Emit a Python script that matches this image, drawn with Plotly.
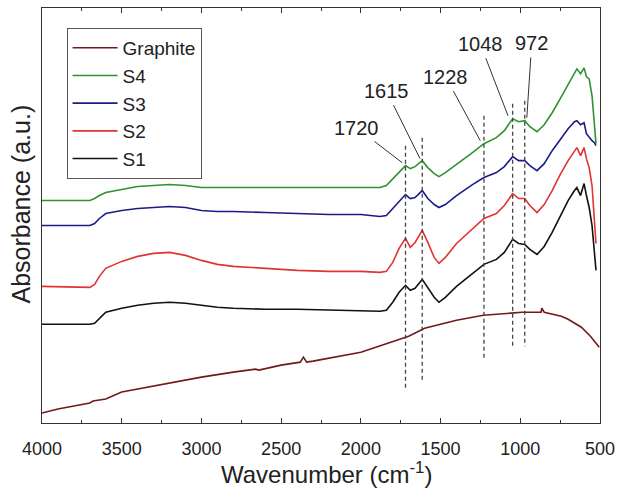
import plotly.graph_objects as go

# ---- data (absorbance in arbitrary units, offset spectra) ----
wn = [4000, 3800, 3700, 3670, 3640, 3600, 3500, 3400, 3300, 3200, 3100, 3000, 2900, 2800,
      2600, 2400, 2200, 2000, 1880, 1840, 1800, 1760, 1720, 1690, 1660, 1615, 1580, 1540,
      1510, 1470, 1400, 1300, 1228, 1150, 1100, 1048, 1010, 972, 940, 895, 850, 800, 750,
      700, 660, 645, 622, 600, 585, 568, 550, 535, 525]

s1_px = [324, 324, 324, 323, 318, 312, 308, 305, 303, 302, 303, 305, 307, 308,
         309, 309, 310, 311, 311, 310, 302, 292, 285, 290, 288, 279, 288, 297,
         302, 297, 286, 273, 264, 259, 252, 239, 243, 244, 249, 254, 246, 232, 216,
         200, 190, 187, 195, 183, 195, 207, 225, 250, 270]
s2_px = [286, 287, 287, 284, 276, 268, 261, 256, 253, 252, 255, 260, 264, 266,
         268, 270, 271, 271, 272, 271, 262, 248, 238, 247, 242, 230, 242, 257,
         263, 257, 243, 228, 218, 213, 205, 193, 198, 198, 205, 212, 204, 190, 174,
         160, 150, 147, 155, 147, 158, 167, 185, 215, 243]
s3_px = [225, 225, 225, 223, 218, 213, 210, 208, 207, 206, 207, 210, 211, 211,
         212, 213, 214, 214, 216, 215, 208, 200, 194, 198, 197, 190, 198, 204,
         207, 204, 195, 184, 177, 172, 166, 156, 160, 160, 165, 170, 163, 150, 139,
         128, 121, 120, 124, 122, 133, 137, 140, 142, 145]
s4_px = [200, 200, 200, 198, 195, 192, 189, 186, 185, 184, 185, 187, 187, 187,
         187, 187, 187, 187, 187, 185, 178, 171, 165, 168, 166, 160, 167, 173,
         176, 172, 164, 152, 143, 137, 130, 118, 121, 120, 126, 131, 124, 112, 98,
         84, 72, 68, 73, 67, 76, 78, 95, 120, 143]

wn_g = [4000, 3900, 3800, 3700, 3680, 3600, 3500, 3300, 3000, 2800, 2660, 2640, 2500,
        2380, 2360, 2340, 2300, 2000, 1800, 1700, 1600, 1400, 1232, 1100, 990, 900,
        870, 865, 850, 742, 700, 617, 560, 505]
g_px = [413, 409, 406, 403, 401, 399, 392, 386, 377, 372, 369, 370, 365,
        362, 357, 362, 361, 352, 341, 336, 328, 320, 315, 313, 312, 312,
        312, 308, 312, 316, 319, 327, 336, 347]

REF = 423
s1 = [REF - v for v in s1_px]
s2 = [REF - v for v in s2_px]
s3 = [REF - v for v in s3_px]
s4 = [REF - v for v in s4_px]
graphite = [REF - v for v in g_px]

peaks = [1720, 1615, 1228, 1048, 972]
peak_labels = ["1720", "1615", "1228", "1048", "972"]
dash_top = [278, 286, 308, 320, 323]
dash_bot = [33, 41, 65, 75, 77]
label_x = [2027, 1840, 1468, 1251, 928]
label_y = [296, 333, 347, 380, 381]
tip_x = [1741, 1629, 1251, 1077, 959]
tip_y = [261, 265, 283, 308, 306]

FONT = "Liberation Sans, Arial, sans-serif"
TXT = "#222222"

fig = go.Figure()
series = [("Graphite", wn_g, graphite, "#701a1a"),
          ("S4", wn, s4, "#2f922f"),
          ("S3", wn, s3, "#1c1c86"),
          ("S2", wn, s2, "#e03333"),
          ("S1", wn, s1, "#111111")]
for name, xs, ys, col in series:
    fig.add_trace(go.Scatter(x=xs, y=ys, mode="lines", name=name,
                             line=dict(color=col, width=1.6)))

for p, t, b in zip(peaks, dash_top, dash_bot):
    fig.add_trace(go.Scatter(x=[p, p], y=[t, b], mode="lines", showlegend=False,
                             line=dict(color="#444444", width=1.3, dash="4px,3px")))

for txt, lx, ly, tx, ty in zip(peak_labels, label_x, label_y, tip_x, tip_y):
    fig.add_annotation(x=tx, y=ty, ax=lx, ay=ly, axref="x", ayref="y",
                       xref="x", yref="y", text=txt, showarrow=True,
                       arrowhead=0, arrowwidth=1, arrowcolor="#333333",
                       standoff=0, startstandoff=2,
                       font=dict(family=FONT, size=20, color=TXT))

# axis titles
fig.add_annotation(text="Wavenumber (cm<sup>-1</sup>)", xref="paper", yref="paper",
                   x=0.5, y=0, xanchor="center", yanchor="middle", xshift=5, yshift=-50,
                   showarrow=False, font=dict(family=FONT, size=24, color=TXT))
fig.add_annotation(text="Absorbance (a.u.)", xref="paper", yref="paper",
                   x=0, y=0.5, xanchor="center", yanchor="middle", xshift=-22, yshift=11,
                   textangle=-90, showarrow=False,
                   font=dict(family=FONT, size=25, color=TXT))

fig.update_layout(
    width=622, height=488,
    margin=dict(l=42, r=16, t=7, b=65),
    paper_bgcolor="white", plot_bgcolor="white",
    font=dict(family=FONT, color=TXT),
    legend=dict(x=0.044, y=0.952, xanchor="left", yanchor="top",
                bordercolor="#555555", borderwidth=1, itemwidth=45,
                font=dict(family=FONT, size=19, color=TXT),
                bgcolor="white", tracegroupgap=0),
)
fig.update_xaxes(range=[4000, 500], tickvals=[4000, 3500, 3000, 2500, 2000, 1500, 1000, 500],
                 ticks="inside", ticklen=5, tickcolor="#333333", ticklabelstandoff=9,
                 minor=dict(ticks="inside", ticklen=3, dtick=250, tickcolor="#333333"),
                 showline=True, linecolor="#333333", linewidth=1, mirror="ticks",
                 showgrid=False, zeroline=False,
                 tickfont=dict(family=FONT, size=18, color=TXT))
fig.update_yaxes(range=[0, 416], showticklabels=False, ticks="",
                 showline=True, linecolor="#333333", linewidth=1, mirror=True,
                 showgrid=False, zeroline=False)

fig.write_html("out.html")
